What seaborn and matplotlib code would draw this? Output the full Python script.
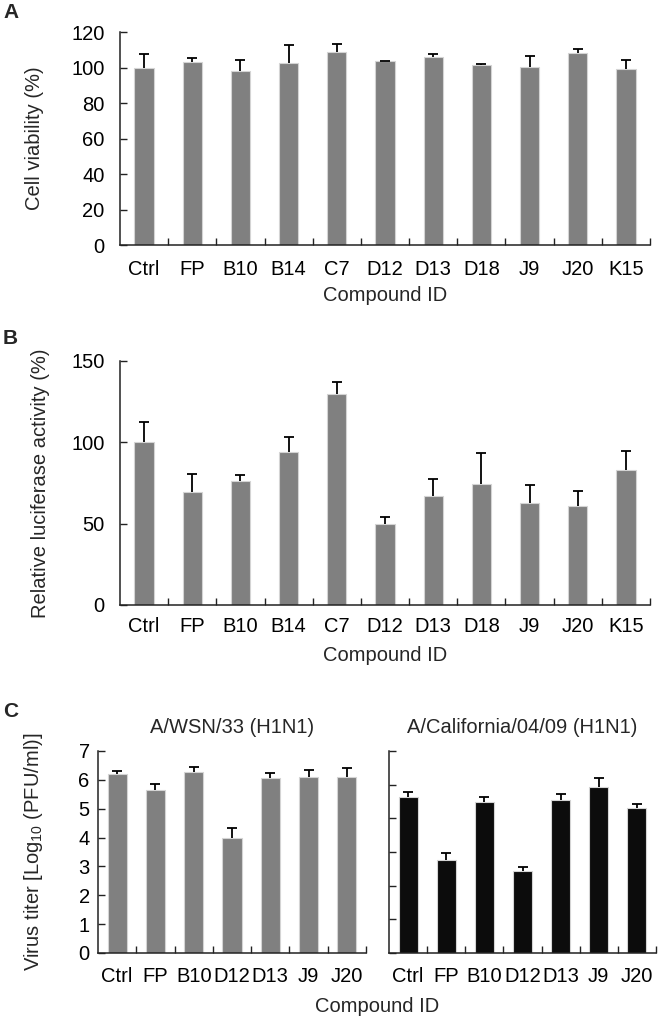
import matplotlib
matplotlib.use("Agg")
import matplotlib.pyplot as plt
import matplotlib.ticker as ticker
import seaborn as sns
import numpy as np

# Panel A: cell viability
compounds_ab = ["Ctrl", "FP", "B10", "B14", "C7", "D12", "D13", "D18", "J9", "J20", "K15"]
viability_mean = [100, 102.9, 98.2, 102.4, 108.5, 103.5, 105.9, 101.4, 100.5, 108.0, 99.0]
viability_sd = [7.6, 2.3, 5.8, 10.5, 4.5, 0.3, 1.5, 0.7, 5.8, 2.4, 5.4]

# Panel B: relative luciferase activity
luciferase_mean = [100, 69.3, 76.2, 94.3, 129.9, 49.8, 67.0, 74.2, 62.7, 60.9, 83.2]
luciferase_sd = [12.7, 11.0, 3.7, 9.0, 7.0, 4.5, 10.7, 19.4, 10.9, 9.0, 11.7]

# Panel C: virus titers
compounds_c = ["Ctrl", "FP", "B10", "D12", "D13", "J9", "J20"]
wsn_mean = [6.19, 5.65, 6.26, 4.00, 6.08, 6.10, 6.10]
wsn_sd = [0.12, 0.20, 0.18, 0.33, 0.15, 0.24, 0.32]
cal_mean = [4.63, 2.75, 4.49, 2.45, 4.54, 4.93, 4.31]
cal_sd = [0.16, 0.23, 0.15, 0.09, 0.17, 0.26, 0.12]

sns.set_theme(style="ticks")
plt.rcParams["font.family"] = ["Liberation Sans", "DejaVu Sans"]
plt.rcParams["mathtext.fontset"] = "custom"
plt.rcParams["mathtext.rm"] = "Liberation Sans"
plt.rcParams["mathtext.it"] = "Liberation Sans"

W, H = 658, 1018
fig = plt.figure(figsize=(W / 100, H / 100), dpi=100)


def add_axes_px(left, top, right, bottom):
    return fig.add_axes([left / W, 1 - bottom / H, (right - left) / W, (bottom - top) / H])


GRAY = "#808080"
BLACK = "#0c0c0c"
FS = 14.5


def bar_panel(ax, labels, means, sds, color, width, ylim, yticks, ypad, xpad, show_ylabels=True):
    sns.barplot(x=labels, y=means, color=color, width=width, edgecolor="#d4d4d4",
                linewidth=0.8, saturation=1, errorbar=None, ax=ax)
    n = len(labels)
    x = np.arange(n)
    tops = np.asarray(means) + np.asarray(sds)
    # one-sided error bars: stem from bar top upward, cap only at the top
    ax.errorbar(x, means, yerr=[np.zeros(n), sds], fmt="none",
                ecolor="black", elinewidth=1.3, capsize=0, zorder=3)
    ax.plot(x, tops, ls="none", marker="_", ms=7.5, mew=1.3, color="black", zorder=3)
    ax.set_xlim(-0.5, n - 0.5)
    ax.set_ylim(*ylim)
    ax.set_yticks(yticks)
    if not show_ylabels:
        ax.set_yticklabels([])
    ax.xaxis.set_minor_locator(ticker.FixedLocator(x + 0.5))
    ax.tick_params(axis="x", which="major", length=0, pad=xpad, labelsize=FS, colors="black")
    ax.tick_params(axis="x", which="minor", direction="in", length=5, width=1, color="#222222")
    ax.tick_params(axis="y", which="major", direction="in", length=5, width=1, pad=ypad,
                   labelsize=FS, color="#222222", labelcolor="black")
    sns.despine(ax=ax)
    for sp in ["left", "bottom"]:
        ax.spines[sp].set_linewidth(1.1)
        ax.spines[sp].set_color("#222222")


# A
axA = add_axes_px(120, 32, 650, 245)
bar_panel(axA, compounds_ab, viability_mean, viability_sd, GRAY, 0.4,
          (0, 120), range(0, 121, 20), ypad=11, xpad=11)
axA.set_ylabel("Cell viability (%)", fontsize=FS)
axA.yaxis.set_label_coords(-0.143, 0.5)
axA.set_xlabel("Compound ID", fontsize=FS, va="center")
axA.xaxis.set_label_coords(0.5, -0.235)

# B
axB = add_axes_px(120, 361, 650, 605)
bar_panel(axB, compounds_ab, luciferase_mean, luciferase_sd, GRAY, 0.4,
          (0, 150), range(0, 151, 50), ypad=11, xpad=9)
axB.set_ylabel("Relative luciferase activity (%)", fontsize=FS)
axB.yaxis.set_label_coords(-0.132, 0.5)
axB.set_xlabel("Compound ID", fontsize=FS, va="center")
axB.xaxis.set_label_coords(0.5, -0.209)

# C
axC1 = add_axes_px(98, 751, 366, 953)
bar_panel(axC1, compounds_c, wsn_mean, wsn_sd, GRAY, 0.5,
          (0, 7), range(0, 8), ypad=6, xpad=10)
axC1.set_ylabel(r"Virus titer [Log$_{10}$ (PFU/ml)]", fontsize=FS)
axC1.yaxis.set_label_coords(-0.198, 0.5)
axC1.set_title("A/WSN/33 (H1N1)", fontsize=FS, pad=13)

axC2 = add_axes_px(389, 751, 656, 953)
bar_panel(axC2, compounds_c, cal_mean, cal_sd, BLACK, 0.5,
          (0, 6), range(0, 7), ypad=6, xpad=10, show_ylabels=False)
axC2.set_title("A/California/04/09 (H1N1)", fontsize=FS, pad=13)

fig.text(377 / W, 1 - 1006 / H, "Compound ID", fontsize=FS, ha="center", va="center")

# panel letters
for letter, ypx in [("A", 18), ("B", 344), ("C", 717)]:
    fig.text(3 / W, 1 - ypx / H, letter, fontsize=15, fontweight="bold", ha="left", va="baseline")

fig.savefig("out.png", dpi=100)
